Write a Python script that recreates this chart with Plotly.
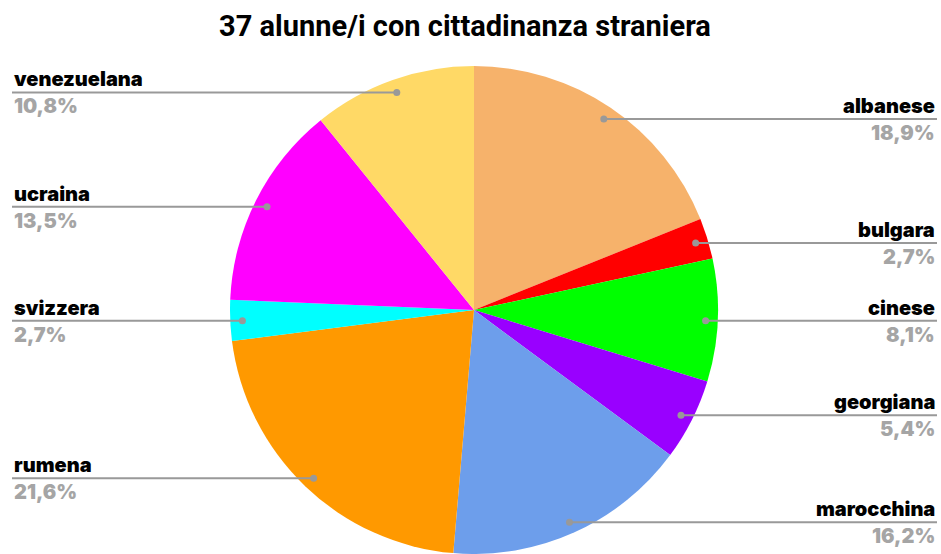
import math
import plotly.graph_objects as go

# dati
nazionalita = ["albanese", "bulgara", "cinese", "georgiana", "marocchina",
               "rumena", "svizzera", "ucraina", "venezuelana"]
alunni = [7, 1, 3, 2, 6, 8, 1, 5, 4]
colori = ["#f6b26b", "#ff0000", "#00ff00", "#9900ff", "#6d9eeb",
          "#ff9900", "#00ffff", "#ff00ff", "#ffd966"]

W, H = 941, 554
cx, cy, R = 474, 310, 244
totale = sum(alunni)

fig = go.Figure(
    go.Pie(
        labels=nazionalita,
        values=alunni,
        marker=dict(colors=colori, line=dict(width=0)),
        sort=False,
        direction="clockwise",
        rotation=0,
        textinfo="none",
        hoverinfo="label+percent",
        domain=dict(x=[(cx - R) / W, (cx + R) / W],
                    y=[max(0, 1 - (cy + R) / H), 1 - (cy - R) / H]),
    )
)

label_font = dict(family="Inter, DejaVu Sans, sans-serif", size=20, color="black", weight=900)
perc_font = dict(family="Inter, DejaVu Sans, sans-serif", size=20, color="#a5a5a5", weight=900)

cum = 0
for nome, v in zip(nazionalita, alunni):
    ang = (cum + v / 2) / totale * 2 * math.pi
    cum += v
    r = 0.95 * R
    px = cx + r * math.sin(ang)
    py = cy + 1 - r * math.cos(ang)
    destra = math.sin(ang) > 0
    x_end = 937 if destra else 12
    fig.add_shape(type="line", xref="paper", yref="paper",
                  x0=px / W, x1=x_end / W, y0=1 - py / H, y1=1 - py / H,
                  line=dict(color="#999999", width=2))
    fig.add_shape(type="circle", xref="paper", yref="paper",
                  x0=(px - 3.5) / W, x1=(px + 3.5) / W,
                  y0=1 - (py + 3.5) / H, y1=1 - (py - 3.5) / H,
                  fillcolor="#999999", line=dict(width=0))
    perc = f"{v / totale * 100:.1f}%".replace(".", ",")
    fig.add_annotation(text=nome, xref="paper", yref="paper",
                       x=x_end / W, y=1 - py / H,
                       xanchor="right" if destra else "left", yanchor="bottom",
                       showarrow=False, font=label_font, yshift=-1)
    fig.add_annotation(text=perc, xref="paper", yref="paper",
                       x=x_end / W, y=1 - py / H,
                       xanchor="right" if destra else "left", yanchor="top",
                       showarrow=False, font=perc_font, yshift=0)

fig.update_layout(
    width=W, height=H,
    margin=dict(l=0, r=0, t=0, b=0),
    showlegend=False,
    paper_bgcolor="white",
    title=dict(text="37 alunne/i con cittadinanza straniera",
               x=465 / W, xanchor="center", y=1 - 26 / H, yanchor="middle",
               font=dict(family="Roboto, Arial, sans-serif", size=29, color="black", weight="bold")),
)

fig.write_html("out.html", config={"displayModeBar": False},
               post_script="document.body.style.margin='0';")
